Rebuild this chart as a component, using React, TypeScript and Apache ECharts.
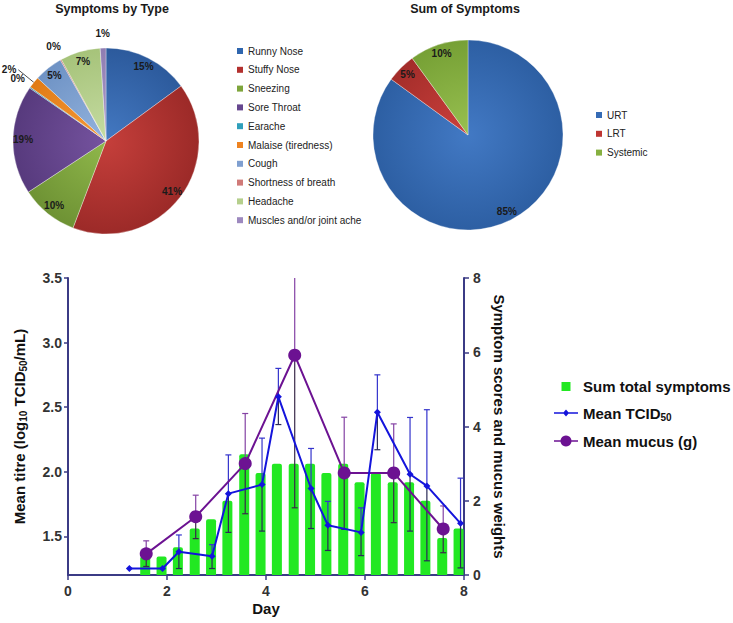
import React, { useEffect, useRef } from "react";
import * as echarts from "echarts";

// ---------------- data ----------------
const typeNames = [
  "Runny Nose",
  "Stuffy Nose",
  "Sneezing",
  "Sore Throat",
  "Earache",
  "Malaise (tiredness)",
  "Cough",
  "Shortness of breath",
  "Headache",
  "Muscles and/or joint ache",
];
const typeValues = [15, 41, 10, 19, 0.2, 2, 5, 0.2, 7, 1];

const sumNames = ["URT", "LRT", "Systemic"];
const sumValues = [85, 5, 10];

const xTicks = [0, 2, 4, 6, 8];
const leftTicks = [1.5, 2.0, 2.5, 3.0, 3.5];
const rightTicks = [0, 2, 4, 6, 8];

const barDays = [1.56, 1.89, 2.22, 2.56, 2.89, 3.22, 3.56, 3.89, 4.22, 4.56, 4.89, 5.22, 5.56, 5.89, 6.22, 6.56, 6.89, 7.22, 7.56, 7.89];
const barSymptoms = [0.5, 0.5, 0.75, 1.25, 1.5, 2.0, 3.25, 2.75, 3.0, 3.0, 3.0, 2.75, 3.0, 2.5, 2.75, 2.5, 2.5, 2.0, 1.0, 1.25];

const titreDays = [1.24, 1.91, 2.24, 2.91, 3.24, 3.92, 4.25, 4.91, 5.25, 5.92, 6.25, 6.91, 7.25, 7.93];
const titreMean = [1.25, 1.25, 1.38, 1.345, 1.83, 1.9, 2.58, 1.87, 1.585, 1.53, 2.46, 1.98, 1.89, 1.6];
const titreHigh = [null, null, 1.51, 1.435, 2.13, 2.26, 2.8, 2.18, 1.77, 1.72, 2.75, 2.42, 2.48, 1.95];
const titreLow = [null, null, 1.25, 1.25, 1.53, 1.54, 2.365, 1.56, 1.39, 1.35, 2.17, 1.54, 1.31, 1.255];

const mucusDays = [1.58, 2.58, 3.58, 4.58, 5.58, 6.58, 7.58];
const mucusMean = [0.57, 1.57, 3.0, 5.92, 2.75, 2.75, 1.24];
const mucusHigh = [0.92, 2.15, 4.35, 8.5, 4.25, 4.07, 1.86];
const mucusLow = [0.23, 0.98, 1.65, 1.81, 1.23, 1.41, 0.6];

// ---------------- styles ----------------
const FONT = "'Liberation Sans', Arial, Helvetica, sans-serif";
const typeColors: [string, string][] = [
  ["#4479c2", "#2c5a9c"],
  ["#c53f3b", "#9c2a28"],
  ["#90b84b", "#6e9234"],
  ["#75539f", "#573a7d"],
  ["#3aa9c4", "#2b8aa2"],
  ["#f79a3a", "#e07b15"],
  ["#93b3de", "#6e92c4"],
  ["#dd8b89", "#c06a68"],
  ["#c6dca2", "#a6c37a"],
  ["#ad9dcc", "#8f7db2"],
];
const typeLegendColors = ["#2f66ae", "#b3302e", "#7ea53b", "#66478f", "#2f9fbb", "#ee8320", "#7f9fd0", "#d07a78", "#b5cf8c", "#9d89bf"];
const sumColors: [string, string][] = [
  ["#4279c4", "#2d5fa3"],
  ["#cc403c", "#a32d2a"],
  ["#98c050", "#76a035"],
];
const sumLegendColors = ["#356bb5", "#be3532", "#86b040"];

const insideTypeLabels = ["Runny Nose", "Stuffy Nose", "Sneezing", "Sore Throat", "Cough", "Headache"];
const ringTypeLabels = ["Earache", "Shortness of breath", "Muscles and/or joint ache"];
const leaderTypeLabels = ["Malaise (tiredness)"];

const GREEN = "#22e822";
const BLUE = "#1414dc";
const PURPLE = "#6c1292";
const AXIS = "#3b3b85";

const grad = (cx: number, cy: number, r: number, c: [string, string]) => ({
  type: "radial",
  x: cx,
  y: cy,
  r,
  global: true,
  colorStops: [
    { offset: 0, color: c[0] },
    { offset: 1, color: c[1] },
  ],
});

const pct = (p: any) => Math.round(p.percent) + "%";
const pieLabelFont = { fontFamily: FONT, fontSize: 10, fontWeight: "bold", color: "#1a1a1a", overflow: "none" };

const pieBase = {
  type: "pie",
  silent: true,
  startAngle: 90,
  clockwise: true,
  avoidLabelOverlap: false,
  minShowLabelAngle: 0,
  labelLayout: { hideOverlap: false },
  emphasis: { disabled: true },
  label: { show: false },
  labelLine: { show: false },
};

const SQUARE_ICON = "path://M0,0M24,14M7.5,2.5H16.5V11.5H7.5Z";
const DIAMOND_ICON = "path://M0,0M24,14M0,6.2H24V7.8H0ZM12,3.6L15,7L12,10.4L9,7Z";
const CIRCLE_ICON = "path://M0,0M24,14M0,6.2H24V7.8H0ZM12,1.5A5.5,5.5,0,1,1,11.99,1.5Z";

const errRender = (upColor: string, lowColor: string) => (params: any, api: any) => {
  const x = api.value(0);
  const hi = api.value(1);
  const lo = api.value(2);
  const mid = api.value(3);
  const pHi = api.coord([x, hi]);
  const pLo = api.coord([x, lo]);
  const pMid = api.coord([x, mid]);
  const top = params.coordSys.y;
  const w = 3;
  const lw = 1.2;
  const children: any[] = [];
  const clipped = pHi[1] < top;
  const yHi = clipped ? top : pHi[1];
  children.push({ type: "line", shape: { x1: pMid[0], y1: pMid[1], x2: pMid[0], y2: yHi }, style: { stroke: upColor, lineWidth: lw } });
  if (!clipped) {
    children.push({ type: "line", shape: { x1: pHi[0] - w, y1: yHi, x2: pHi[0] + w, y2: yHi }, style: { stroke: upColor, lineWidth: lw } });
  }
  children.push({ type: "line", shape: { x1: pMid[0], y1: pMid[1], x2: pLo[0], y2: pLo[1] }, style: { stroke: lowColor, lineWidth: lw } });
  children.push({ type: "line", shape: { x1: pLo[0] - w, y1: pLo[1], x2: pLo[0] + w, y2: pLo[1] }, style: { stroke: lowColor, lineWidth: lw } });
  return { type: "group", children };
};

const boldRich = {
  b: { fontFamily: FONT, fontSize: 15, fontWeight: "bold", color: "#111", lineHeight: 18 },
  s: { fontFamily: FONT, fontSize: 10, fontWeight: "bold", color: "#111", lineHeight: 10, verticalAlign: "bottom" },
};

function buildOption(): any {
  const titreErr = titreDays
    .map((d, i) => [d, titreHigh[i], titreLow[i], titreMean[i]])
    .filter((r) => r[1] !== null);
  const mucusErr = mucusDays.map((d, i) => [d, mucusHigh[i], mucusLow[i], mucusMean[i]]);

  const pie1c = [106, 141];
  const pie1r = 93;
  const pie2c = [468, 135];
  const pie2r = 95;

  const titleStyle = { fontFamily: FONT, fontSize: 12.5, fontWeight: "bold", color: "#1a1a1a" };

  return {
    animation: false,
    textStyle: { fontFamily: FONT },
    title: [
      { text: "Symptoms by Type", left: 112, top: 2, padding: 0, textAlign: "center", textStyle: titleStyle },
      { text: "Sum of Symptoms", left: 465, top: 2, padding: 0, textAlign: "center", textStyle: titleStyle },
    ],
    legend: [
      {
        orient: "vertical",
        left: 232,
        top: 41,
        itemWidth: 6,
        itemHeight: 6,
        itemGap: 8.8,
        icon: "rect",
        selectedMode: false,
        textStyle: { fontFamily: FONT, fontSize: 10, color: "#222" },
        data: typeNames.map((n, i) => ({ name: n, itemStyle: { color: typeLegendColors[i], borderWidth: 0 } })),
      },
      {
        orient: "vertical",
        left: 591,
        top: 105,
        itemWidth: 6,
        itemHeight: 6,
        itemGap: 8.8,
        icon: "rect",
        selectedMode: false,
        textStyle: { fontFamily: FONT, fontSize: 10, color: "#222" },
        data: sumNames.map((n, i) => ({ name: n, itemStyle: { color: sumLegendColors[i], borderWidth: 0 } })),
      },
      {
        orient: "vertical",
        left: 549,
        top: 374,
        itemWidth: 24,
        itemHeight: 14,
        itemGap: 11.5,
        selectedMode: false,
        formatter: (n: string) => (n === "Mean TCID50" ? "{b|Mean TCID}{s|50}" : "{b|" + n + "}"),
        textStyle: { fontFamily: FONT, fontSize: 15, fontWeight: "bold", color: "#111", rich: boldRich },
        data: [
          { name: "Sum total symptoms", icon: SQUARE_ICON, itemStyle: { color: GREEN, borderWidth: 0 } },
          { name: "Mean TCID50", icon: DIAMOND_ICON, itemStyle: { color: BLUE, borderWidth: 0 } },
          { name: "Mean mucus (g)", icon: CIRCLE_ICON, itemStyle: { color: PURPLE, borderWidth: 0 } },
        ],
      },
    ],
    grid: { left: 68, top: 278, width: 396, height: 297 },
    xAxis: {
      type: "value",
      min: xTicks[0],
      max: xTicks[xTicks.length - 1],
      interval: 2,
      name: "Day",
      nameLocation: "middle",
      nameGap: 26,
      nameTextStyle: { fontFamily: FONT, fontSize: 15, fontWeight: "bold", color: "#111" },
      axisLine: { show: true, onZero: false, lineStyle: { color: AXIS, width: 2 } },
      axisTick: { show: true, length: 5, lineStyle: { color: AXIS, width: 1.5 } },
      axisLabel: { fontFamily: FONT, fontSize: 14, fontWeight: "bold", color: "#333", margin: 9 },
      splitLine: { show: false },
    },
    yAxis: [
      {
        type: "value",
        position: "left",
        min: 1.2,
        max: 3.5,
        name: "{b|Mean titre (log}{s|10}{b| TCID}{s|50}{b|/mL)}",
        nameLocation: "middle",
        nameGap: 40,
        nameTextStyle: { rich: boldRich },
        axisLine: { show: true, onZero: false, lineStyle: { color: AXIS, width: 2 } },
        axisTick: { show: true, length: 4, customValues: leftTicks, lineStyle: { color: AXIS, width: 1.5 } },
        axisLabel: {
          fontFamily: FONT,
          fontSize: 14,
          fontWeight: "bold",
          color: "#333",
          margin: 6,
          customValues: leftTicks,
          formatter: (v: number) => v.toFixed(1),
        },
        splitLine: { show: false },
      },
      {
        type: "value",
        position: "right",
        min: rightTicks[0],
        max: rightTicks[rightTicks.length - 1],
        interval: 2,
        name: "Symptom scores and mucus weights",
        nameLocation: "middle",
        nameRotate: -90,
        nameGap: 28,
        nameTextStyle: { fontFamily: FONT, fontSize: 15, fontWeight: "bold", color: "#111" },
        axisLine: { show: true, onZero: false, lineStyle: { color: AXIS, width: 2 } },
        axisTick: { show: true, length: 5, lineStyle: { color: AXIS, width: 1.5 } },
        axisLabel: { fontFamily: FONT, fontSize: 14, fontWeight: "bold", color: "#333", margin: 9 },
        splitLine: { show: false },
      },
    ],
    series: [
      // ---- pie 1 ----
      {
        ...pieBase,
        center: pie1c,
        radius: pie1r,
        itemStyle: { borderColor: "rgba(255,255,255,0.55)", borderWidth: 0.6 },
        data: typeNames.map((n, i) => {
          const lead = leaderTypeLabels.includes(n);
          return {
            name: n,
            value: typeValues[i],
            itemStyle: { color: grad(pie1c[0], pie1c[1], pie1r, typeColors[i]) },
            label: lead
              ? { show: true, position: "outside", distanceToLabelLine: 2, formatter: pct, ...pieLabelFont }
              : { show: false },
            labelLine: lead ? { show: true, length: 20, length2: 0, lineStyle: { color: "#222", width: 0.8 } } : { show: false },
          };
        }),
      },
      {
        ...pieBase,
        center: pie1c,
        radius: [67, pie1r],
        itemStyle: { color: "rgba(0,0,0,0)", borderWidth: 0 },
        data: typeNames.map((n, i) => ({
          name: n,
          value: typeValues[i],
          label: insideTypeLabels.includes(n) ? { show: true, position: "inside", formatter: pct, ...pieLabelFont } : { show: false },
        })),
      },
      {
        ...pieBase,
        center: pie1c,
        radius: [96, 114],
        itemStyle: { color: "rgba(0,0,0,0)", borderWidth: 0 },
        data: typeNames.map((n, i) => ({
          name: n,
          value: typeValues[i],
          label: ringTypeLabels.includes(n) ? { show: true, position: "inside", formatter: pct, ...pieLabelFont } : { show: false },
        })),
      },
      // ---- pie 2 ----
      {
        ...pieBase,
        center: pie2c,
        radius: pie2r,
        itemStyle: { borderColor: "rgba(255,255,255,0.55)", borderWidth: 0.6 },
        data: sumNames.map((n, i) => ({
          name: n,
          value: sumValues[i],
          itemStyle: { color: grad(pie2c[0], pie2c[1], pie2r, sumColors[i]) },
        })),
      },
      {
        ...pieBase,
        center: pie2c,
        radius: [70, pie2r],
        itemStyle: { color: "rgba(0,0,0,0)", borderWidth: 0 },
        label: { show: true, position: "inside", formatter: pct, ...pieLabelFont },
        data: sumNames.map((n, i) => ({ name: n, value: sumValues[i] })),
      },
      // ---- bottom chart ----
      {
        type: "bar",
        name: "Sum total symptoms",
        xAxisIndex: 0,
        yAxisIndex: 1,
        barWidth: 10,
        silent: true,
        itemStyle: { color: GREEN, borderRadius: [2, 2, 0, 0] },
        data: barDays.map((d, i) => [d, barSymptoms[i]]),
        z: 1,
      },
      {
        type: "custom",
        name: "titreErr",
        xAxisIndex: 0,
        yAxisIndex: 0,
        silent: true,
        encode: { x: 0, y: [1, 2, 3] },
        renderItem: errRender("#3434cc", "#2a2a58"),
        data: titreErr,
        z: 3,
      },
      {
        type: "custom",
        name: "mucusErr",
        xAxisIndex: 0,
        yAxisIndex: 1,
        silent: true,
        encode: { x: 0, y: [1, 2, 3] },
        renderItem: errRender("#8442a4", "#3a2a4a"),
        data: mucusErr,
        z: 3,
      },
      {
        type: "line",
        name: "Mean TCID50",
        xAxisIndex: 0,
        yAxisIndex: 0,
        symbol: "diamond",
        symbolSize: 7,
        silent: true,
        lineStyle: { color: BLUE, width: 2 },
        itemStyle: { color: BLUE },
        data: titreDays.map((d, i) => [d, titreMean[i]]),
        z: 5,
      },
      {
        type: "line",
        name: "Mean mucus (g)",
        xAxisIndex: 0,
        yAxisIndex: 1,
        symbol: "circle",
        symbolSize: 13,
        silent: true,
        lineStyle: { color: PURPLE, width: 2 },
        itemStyle: { color: PURPLE },
        data: mucusDays.map((d, i) => [d, mucusMean[i]]),
        z: 4,
      },
    ],
  };
}

export default function App() {
  const ref = useRef<HTMLDivElement>(null);
  useEffect(() => {
    document.body.style.margin = "0";
    if (!ref.current) return;
    const chart = echarts.init(ref.current, null, { renderer: "svg" });
    chart.setOption(buildOption());
    return () => {
      chart.dispose();
    };
  }, []);
  return (
    <div
      ref={ref}
      style={{ position: "fixed", left: 0, top: 0, width: 733, height: 623, background: "#ffffff" }}
    />
  );
}
